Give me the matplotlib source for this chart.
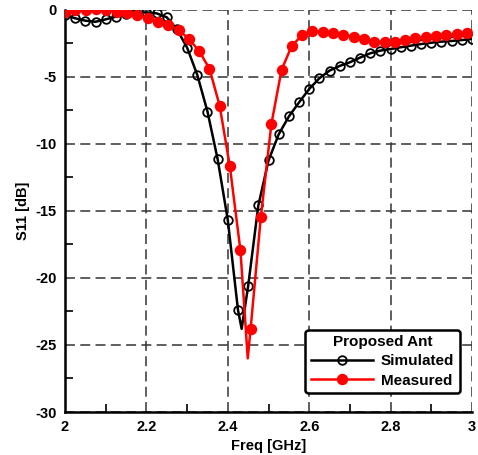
import numpy as np
import matplotlib.pyplot as plt
from matplotlib.ticker import MultipleLocator

plt.rcParams["font.family"] = ["Liberation Sans", "DejaVu Sans"]
plt.rcParams["font.weight"] = "bold"

# simulated: markers every 0.025 GHz, plus the true minimum between markers
sim_freq = [round(2 + 0.025 * i, 3) for i in range(41)]
sim_s11 = [-0.41, -0.65, -0.83, -0.91, -0.73, -0.53, -0.36, -0.24, -0.21, -0.28,
           -0.58, -1.47, -2.84, -4.87, -7.60, -11.15, -15.70, -22.40, -20.60, -14.60,
           -11.25, -9.30, -7.97, -6.92, -5.92, -5.12, -4.55, -4.20, -3.93, -3.58,
           -3.26, -3.06, -2.94, -2.81, -2.69, -2.57, -2.47, -2.39, -2.34, -2.27, -2.19]
sim_dip_freq = [2.434]
sim_dip_s11 = [-23.8]

# measured: markers every ~0.0253 GHz, plus the dip
meas_freq = [2.0, 2.025, 2.051, 2.076, 2.101, 2.127, 2.152, 2.177, 2.203, 2.228,
             2.253, 2.279, 2.304, 2.329, 2.355, 2.380, 2.405, 2.431, 2.456, 2.481,
             2.507, 2.532, 2.557, 2.583, 2.608, 2.633, 2.659, 2.684, 2.709, 2.735,
             2.760, 2.785, 2.811, 2.836, 2.861, 2.887, 2.912, 2.937, 2.963, 2.988]
meas_s11 = [-0.16, -0.04, 0.0, 0.02, -0.04, -0.16, -0.28, -0.41, -0.65, -0.91,
            -1.15, -1.52, -2.19, -3.06, -4.42, -7.17, -11.69, -17.95, -23.80, -15.50,
            -8.54, -4.50, -2.71, -1.90, -1.60, -1.65, -1.74, -1.90, -2.02, -2.20,
            -2.39, -2.39, -2.39, -2.27, -2.14, -2.02, -1.97, -1.90, -1.82, -1.77]
meas_dip_freq = [2.449]
meas_dip_s11 = [-26.0]


def merge(f, v, df, dv):
    pts = sorted(zip(list(f) + list(df), list(v) + list(dv)))
    mark = [i for i, p in enumerate(pts) if p[0] not in df]
    return [p[0] for p in pts], [p[1] for p in pts], mark


fig = plt.figure(figsize=(4.78, 4.55), dpi=100)
ax = fig.add_axes([0.136, 0.0945, 0.8515, 0.8845])

sx, sy, smark = merge(sim_freq, sim_s11, sim_dip_freq, sim_dip_s11)
mx, my, mmark = merge(meas_freq, meas_s11, meas_dip_freq, meas_dip_s11)

ax.plot(sx, sy, color="black", lw=1.8, marker="o", ms=6.2, mfc="none",
        mec="black", mew=1.3, markevery=smark, label="Simulated", zorder=3)
ax.plot(mx, my, color="#ff0000", lw=1.8, marker="o", ms=7.2, mfc="#ff0000",
        mec="#ff0000", markevery=mmark, label="Measured", zorder=4)

ax.set_xlim(2, 3)
ax.set_ylim(-30, 0)
ax.xaxis.set_minor_locator(MultipleLocator(0.1))
ax.yaxis.set_minor_locator(MultipleLocator(2.5))
ax.set_xticks([2, 2.2, 2.4, 2.6, 2.8, 3])
ax.set_xticklabels(["2", "2.2", "2.4", "2.6", "2.8", "3"])
ax.set_yticks([-30, -25, -20, -15, -10, -5, 0])
ax.set_yticklabels(["-30", "-25", "-20", "-15", "-10", "-5", "0"])

ax.grid(True, which="major", color="#333333", ls=(0, (6.5, 3.5)), lw=1.1)
ax.tick_params(which="both", direction="in", labelsize=10.5, width=1.2,
               top=False, right=False, pad=6)
ax.tick_params(which="major", length=0)
ax.tick_params(which="minor", length=6)

for side in ["top", "right"]:
    ax.spines[side].set_visible(False)
for side in ["left", "bottom"]:
    ax.spines[side].set_linewidth(1.8)

ax.set_xlabel("Freq [GHz]", fontsize=10.5, fontweight="bold", labelpad=3)
ax.set_ylabel("S11 [dB]", fontsize=10.5, fontweight="bold", labelpad=4)

leg = ax.legend(loc="lower right", bbox_to_anchor=(0.97, 0.047),
                borderaxespad=0, title="Proposed Ant", fontsize=11,
                handlelength=4.1, frameon=True, fancybox=True, framealpha=1,
                edgecolor="black", borderpad=0.35, labelspacing=0.35,
                handletextpad=0.5)
leg.get_title().set_fontweight("bold")
leg.get_title().set_fontsize(11)
leg.get_frame().set_linewidth(1.8)
leg.set_zorder(10)

plt.savefig("out.png", dpi=100)
